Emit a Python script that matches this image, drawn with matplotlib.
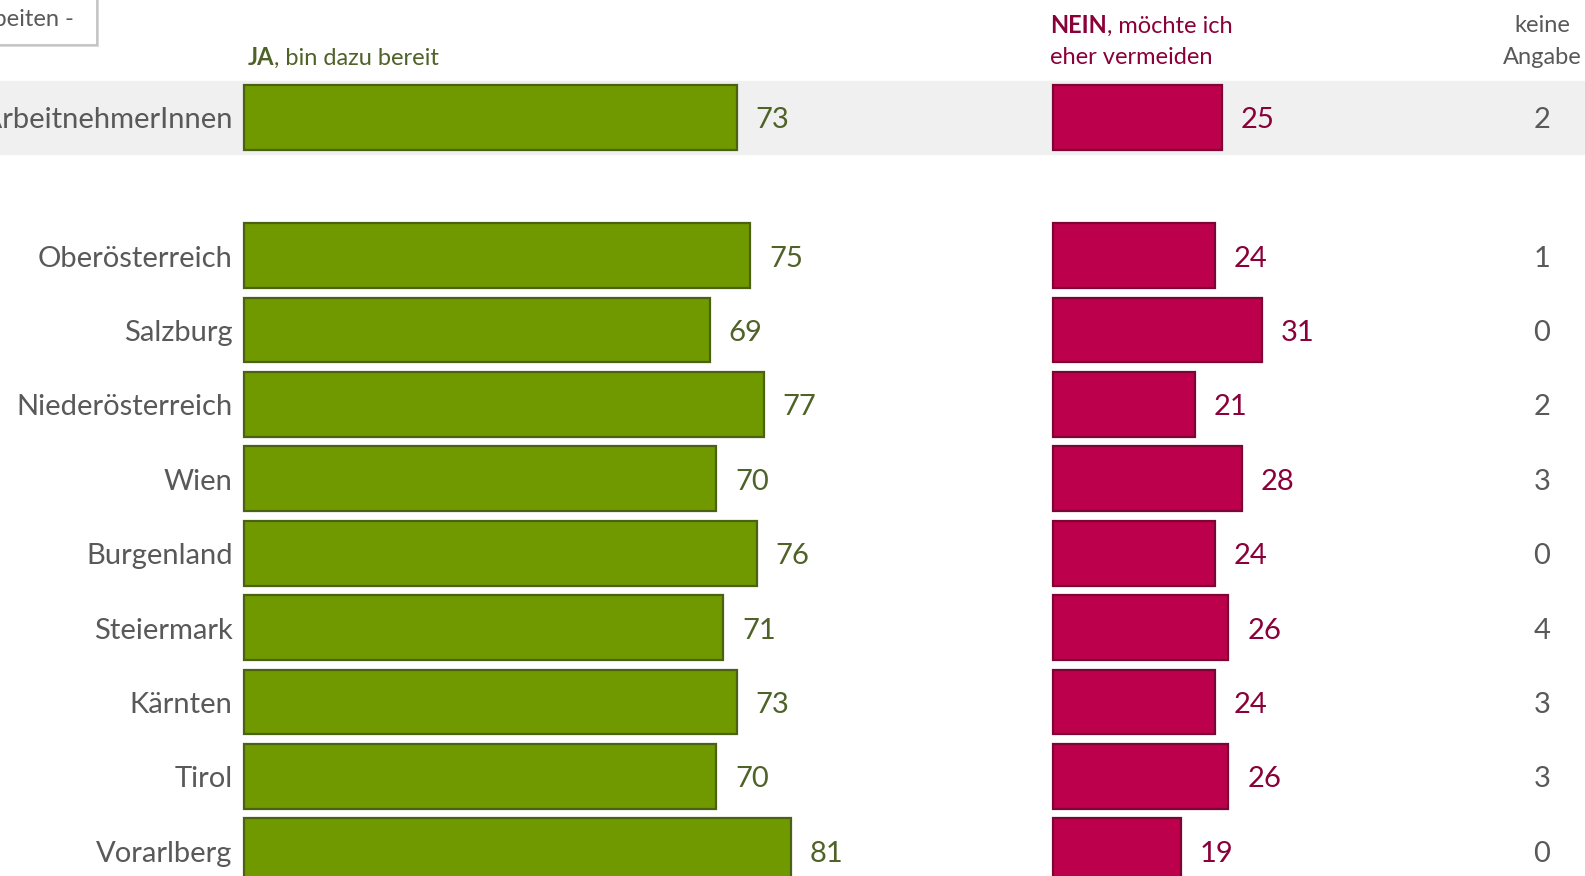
import matplotlib.pyplot as plt
import matplotlib.patches as mpatches
import numpy as np

plt.rcParams['font.family'] = ['Lato', 'DejaVu Sans']

# Daten
gruppen = ['Alle ArbeitnehmerInnen', 'Oberösterreich', 'Salzburg', 'Niederösterreich', 'Wien',
           'Burgenland', 'Steiermark', 'Kärnten', 'Tirol', 'Vorarlberg']
ja = [73, 75, 69, 77, 70, 76, 71, 73, 70, 81]
nein = [25, 24, 31, 21, 28, 24, 26, 24, 26, 19]
keine_angabe = [2, 1, 0, 2, 3, 0, 4, 3, 3, 0]

gruen = '#709900'
gruen_rand = '#4a6212'
gruen_text = '#4f6228'
rot = '#bc004b'
rot_rand = '#7d0535'
rot_text = '#8a0038'
grau = '#595959'

# Zeilenpositionen: Gesamt oben, dann Lücke, dann Bundesländer
y = np.array([0] + [1.86 + i for i in range(len(gruppen) - 1)])
offset_nein = 119.85
x_keine = 192.3
dy = 0.04  # Text leicht nach unten

W, H = 1585, 876
fig = plt.figure(figsize=(W / 100, H / 100), dpi=100)
ax = fig.add_axes([0, 0, 1, 1])
ax.set_xlim(-36.15, 198.7)
ax.set_ylim(10.2, -1.577)
ax.axis('off')

ax.axhspan(-0.49, 0.49, color='#f0f0f0', zorder=0)

ax.barh(y, ja, height=0.87, color=gruen, edgecolor=gruen_rand, linewidth=1.6, zorder=2)
ax.barh(y, nein, left=offset_nein, height=0.87, color=rot, edgecolor=rot_rand, linewidth=1.6, zorder=2)

for yi, name, j, n, k in zip(y + dy, gruppen, ja, nein, keine_angabe):
    ax.text(-1.7, yi, name, ha='right', va='center', fontsize=21, color=grau)
    ax.text(j + 2.8, yi, str(j), ha='left', va='center', fontsize=21, color=gruen_text)
    ax.text(offset_nein + n + 2.8, yi, str(n), ha='left', va='center', fontsize=21, color=rot_text)
    ax.text(x_keine, yi, str(k), ha='center', va='center', fontsize=21, color=grau)

# Kopfzeilen
y1 = 1 - 25.5 / H
y2 = 1 - 57.5 / H
t = fig.text(248 / W, y2, 'JA', fontsize=17, fontweight='bold', color=gruen_text, va='center', ha='left')
ax.annotate(', bin dazu bereit', xy=(1, 0), xycoords=t, fontsize=17, color=gruen_text,
            va='bottom', ha='left', annotation_clip=False)

t = fig.text(1050 / W, y1, 'NEIN', fontsize=17, fontweight='bold', color=rot_text, va='center', ha='left')
ax.annotate(', möchte ich', xy=(1, 0), xycoords=t, fontsize=17, color=rot_text,
            va='bottom', ha='left', annotation_clip=False)
fig.text(1050 / W, y2, 'eher vermeiden', fontsize=17, color=rot_text, va='center', ha='left')

fig.text(1542 / W, y1, 'keine', fontsize=17, color=grau, va='center', ha='center')
fig.text(1542 / W, y2, 'Angabe', fontsize=17, color=grau, va='center', ha='center')

# Kasten oben links (mit leichtem Schatten)
fig.patches.append(mpatches.Rectangle((-20 / W, 1 - 47 / H), 119 / W, 60 / H, transform=fig.transFigure,
                                      facecolor='#d9d9d9', edgecolor='none', zorder=5))
fig.patches.append(mpatches.Rectangle((-20 / W, 1 - 44.5 / H), 117 / W, 60 / H, transform=fig.transFigure,
                                      facecolor='white', edgecolor='#bfbfbf', linewidth=1.2, zorder=6))
fig.text(74 / W, 1 - 20 / H, '- Arbeiten -', fontsize=17, color=grau, va='center', ha='right', zorder=7)

plt.savefig('out.png', dpi=100)
